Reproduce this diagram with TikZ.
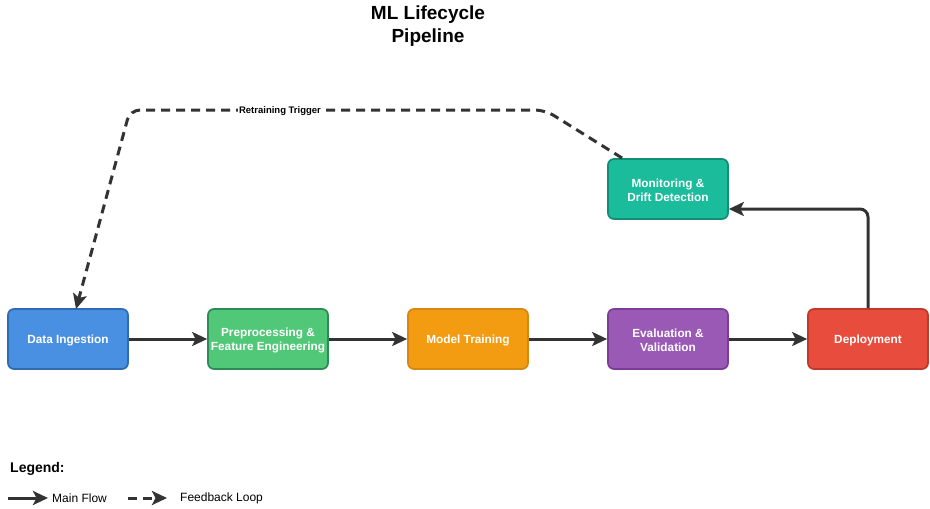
\documentclass[tikz,border=0pt]{standalone}
\usepackage{fontspec}
\setmainfont{Liberation Sans}
\usetikzlibrary{arrows.meta}
\definecolor{arr}{HTML}{333333}
\definecolor{c1f}{HTML}{4A90E2}\definecolor{c1s}{HTML}{2E6BB0}
\definecolor{c2f}{HTML}{50C878}\definecolor{c2s}{HTML}{2E8B57}
\definecolor{c3f}{HTML}{F39C12}\definecolor{c3s}{HTML}{D68910}
\definecolor{c4f}{HTML}{9B59B6}\definecolor{c4s}{HTML}{7D3C98}
\definecolor{c5f}{HTML}{E74C3C}\definecolor{c5s}{HTML}{C0392B}
\definecolor{c6f}{HTML}{1ABC9C}\definecolor{c6s}{HTML}{138D75}
\tikzset{
  stagebox/.style={draw, line width=1.7pt, rounded corners=6pt, minimum width=120pt, minimum height=60pt,
    inner sep=0pt},
  boxtext/.style={label={[align=center, text=white, inner sep=0pt, yshift=-1.5pt,
    font=\fontsize{11.8}{14}\selectfont\bfseries]center:#1}},
  flow/.style={draw=arr, line width=3pt, -{Stealth[length=15pt,width=14pt,inset=3.5pt]}},
  fb/.style={draw=arr, line width=3pt, dash pattern=on 9pt off 6pt, -{Stealth[length=15pt,width=14pt,inset=3.5pt]}},
}
\begin{document}
\begin{tikzpicture}[x=1pt,y=-1pt]
\useasboundingbox (0,0) rectangle (930,509);
\fill[white] (0,0) rectangle (930,509);
\node[font=\fontsize{19}{23}\selectfont\bfseries, align=center] (title) at (428,26) {ML Lifecycle\\Pipeline};
\node[stagebox, fill=c1f, draw=c1s, boxtext={Data Ingestion}] (di) at (68,339) {};
\node[stagebox, fill=c2f, draw=c2s, boxtext={Preprocessing \&\\Feature Engineering}] (pp) at (268,339) {};
\node[stagebox, fill=c3f, draw=c3s, boxtext={Model Training}] (mt) at (468,339) {};
\node[stagebox, fill=c4f, draw=c4s, boxtext={Evaluation \&\\Validation}] (ev) at (668,339) {};
\node[stagebox, fill=c5f, draw=c5s, boxtext={Deployment}] (dp) at (868,339) {};
\node[stagebox, fill=c6f, draw=c6s, boxtext={Monitoring \&\\Drift Detection}] (mon) at (668,189) {};
\draw[flow] (di.east) -- (pp.west);
\draw[flow] (pp.east) -- (mt.west);
\draw[flow] (mt.east) -- (ev.west);
\draw[flow] (ev.east) -- (dp.west);
\coordinate (mc) at (868,209);
\coordinate (me) at (728,209);
\draw[flow, rounded corners=8pt] (dp.north) -- (mc) -- (mon.east |- me);
\coordinate (fs) at (622,158);
\coordinate (f1) at (545,110);
\coordinate (f2) at (130,110);
\coordinate (ft) at (76,309);
\draw[fb, rounded corners=10pt] (fs) -- (f1) -- (f2) -- (ft);
\node[fill=white, inner sep=1pt, font=\fontsize{9.5}{11}\selectfont\bfseries] (lab) at (280,111) {Retraining Trigger};
\node[anchor=west, font=\fontsize{14}{16}\selectfont\bfseries, inner sep=0pt] (leg) at (10,469) {Legend:};
\coordinate (l1a) at (8,498); \coordinate (l1b) at (48,498);
\draw[flow] (l1a) -- (l1b);
\node[anchor=west, font=\fontsize{12}{14}\selectfont, inner sep=0pt] (lt1) at (52,498) {Main Flow};
\coordinate (l2a) at (128,498); \coordinate (l2b) at (167,498);
\draw[fb] (l2a) -- (l2b);
\node[anchor=west, font=\fontsize{12}{14}\selectfont, inner sep=0pt] (lt2) at (180,498) {Feedback Loop};
\end{tikzpicture}
\end{document}
